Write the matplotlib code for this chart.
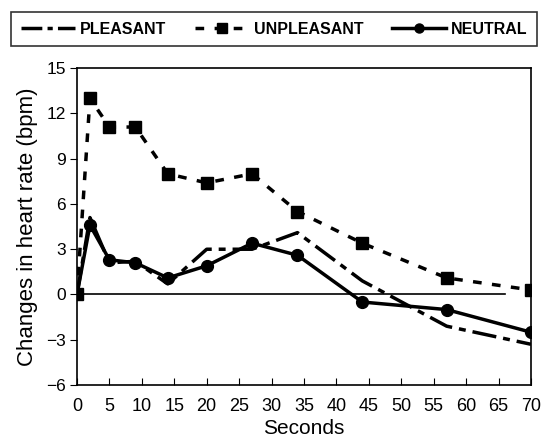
import matplotlib.pyplot as plt
from matplotlib.lines import Line2D

plt.rcParams['font.family'] = ['Liberation Sans', 'DejaVu Sans']

seconds = [0, 2, 5, 9, 14, 20, 27, 34, 44, 57, 70]
pleasant = [0, 5.1, 2.1, 2.2, 0.7, 3.0, 3.0, 4.1, 0.9, -2.1, -3.3]
unpleasant = [0, 13.0, 11.1, 11.1, 8.0, 7.4, 8.0, 5.5, 3.4, 1.1, 0.3]
neutral = [0, 4.6, 2.3, 2.1, 1.1, 1.9, 3.4, 2.6, -0.5, -1.0, -2.5]

fig = plt.figure(figsize=(5.44, 4.40), dpi=100)
ax = fig.add_axes([0.1415, 0.125, 0.8345, 0.72])

ax.plot([0, 66], [0, 0], color='black', lw=1.2, zorder=1)
ax.plot(seconds, pleasant, color='black', lw=2.5, dashes=(7, 2, 2, 2))
ax.plot(seconds, unpleasant, color='black', lw=2.5, dashes=(2.5, 3),
        marker='s', ms=9)
ax.plot(seconds, neutral, color='black', lw=2.5, marker='o', ms=8.5)

ax.set_xlim(0, 70)
ax.set_ylim(-6, 15)
ax.set_xticks(range(0, 71, 5))
ax.set_yticks(range(-6, 16, 3))
ax.tick_params(axis='x', direction='in', length=5, labelsize=13, pad=9)
ax.tick_params(axis='y', direction='out', length=5, labelsize=12.5, pad=3)
for s in ax.spines.values():
    s.set_linewidth(1.2)
ax.set_xlabel('Seconds', fontsize=15, labelpad=3)
ax.set_ylabel('Changes in heart rate (bpm)', fontsize=16, labelpad=6)

handles = [
    Line2D([], [], color='black', lw=2.5, dashes=(6, 1.5, 1.5, 1.5)),
    Line2D([], [], color='black', lw=2.5, dashes=(2.5, 3), marker='s', ms=7.5),
    Line2D([], [], color='black', lw=2.5, marker='o', ms=6.5),
]
leg = fig.legend(handles, ['PLEASANT', 'UNPLEASANT', 'NEUTRAL'], ncol=3,
                 loc='upper center', bbox_to_anchor=(0.504, 0.972),
                 frameon=True, fancybox=False, edgecolor='black',
                 prop={'weight': 'bold', 'size': 11.5}, handlelength=3.4,
                 columnspacing=1.8, handletextpad=0.3, borderpad=0.6,
                 borderaxespad=0)
leg.get_frame().set_linewidth(1.2)

fig.savefig('out.png', dpi=100)
